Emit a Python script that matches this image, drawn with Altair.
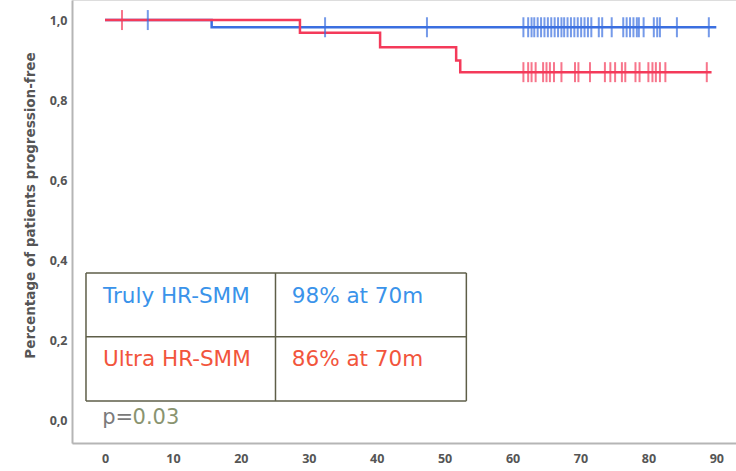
import altair as alt
import pandas as pd

# Kaplan-Meier step curves (months, proportion progression-free)
blue_t = [0, 15.7, 90.0]
blue_s = [1.0, 0.982, 0.982]
red_t = [0, 28.7, 40.5, 51.7, 52.3, 89.3]
red_s = [1.0, 0.968, 0.932, 0.899, 0.870, 0.870]

# Censored observations (months)
blue_cens = [6.3, 32.4, 47.4, 61.6, 62.3, 62.8, 63.2, 63.7, 64.2, 64.7, 65.2,
             65.7, 66.2, 66.7, 67.2, 67.6, 68.1, 68.6, 69.1, 69.6, 70.1, 70.6,
             71.1, 71.6, 72.7, 73.2, 74.6, 76.3, 76.8, 77.3, 77.8, 78.3, 78.6,
             79.3, 80.8, 81.3, 81.7, 84.2, 88.9]
red_cens = [2.5, 61.6, 62.3, 62.8, 63.4, 64.5, 65.0, 65.5, 66.1, 67.2, 69.2,
            69.7, 71.4, 73.6, 74.4, 75.1, 76.1, 76.6, 78.1, 78.7, 80.0, 80.6,
            81.1, 81.7, 82.5, 88.6]

groups = ["Truly HR-SMM", "Ultra HR-SMM"]
summary = ["98% at 70m", "86% at 70m"]
p_value = "0.03"

x_ticks = [0, 10, 20, 30, 40, 50, 60, 70, 80, 90]
y_ticks = [0.0, 0.2, 0.4, 0.6, 0.8, 1.0]

LINE_BLUE = "#3b6fe0"
LINE_RED = "#f43a5a"
TEXT_BLUE = "#3a93ea"
TEXT_RED = "#f2553c"
BORDER = "#5e5e48"
AXIS_TEXT = "#555555"


def surv_at(times, surv, t):
    s = surv[0]
    for ti, si in zip(times, surv):
        if ti <= t:
            s = si
    return s


curves = pd.concat([
    pd.DataFrame({"t": blue_t, "s": blue_s, "g": groups[0], "o": 0}),
    pd.DataFrame({"t": red_t, "s": red_s, "g": groups[1], "o": 1}),
])
cens = pd.concat([
    pd.DataFrame({"t": blue_cens, "s": [surv_at(blue_t, blue_s, c) for c in blue_cens],
                  "g": groups[0]}),
    pd.DataFrame({"t": red_cens, "s": [surv_at(red_t, red_s, c) for c in red_cens],
                  "g": groups[1]}),
])

xs = alt.Scale(domain=[-4.86, 92.9], nice=False, zero=False)
ys = alt.Scale(domain=[-0.055, 1.05], nice=False, zero=False)
col = alt.Scale(domain=groups, range=[LINE_BLUE, LINE_RED])

x_axis = alt.Axis(values=x_ticks, title=None, grid=False, ticks=False,
                  labelFontWeight="bold", labelColor=AXIS_TEXT, labelFontSize=12.5,
                  labelFont="Open Sans", labelPadding=9, domainColor="#b5b5b5",
                  domainWidth=2)
y_axis = alt.Axis(values=y_ticks, title="Percentage of patients progression-free",
                  grid=False, ticks=False, labelFontWeight="bold",
                  labelColor=AXIS_TEXT, labelFontSize=12.5, labelFont="Open Sans",
                  labelPadding=5, domainColor="#b5b5b5", domainWidth=2,
                  labelExpr="replace(format(datum.value, '.1f'), '.', ',')",
                  titleFont="DejaVu Sans", titleFontSize=13.5, titleFontWeight="bold",
                  titleColor=AXIS_TEXT, titleX=-42, titleY=205, titleAngle=-90,
                  titleAlign="center", titleBaseline="middle")

lines = alt.Chart(curves).mark_line(interpolate="step-after", strokeWidth=2.5).encode(
    x=alt.X("t:Q", scale=xs, axis=x_axis),
    y=alt.Y("s:Q", scale=ys, axis=y_axis),
    color=alt.Color("g:N", scale=col, legend=None),
    detail="g:N",
    order="o:Q",
)

ticks = alt.Chart(cens).mark_tick(orient="vertical", size=20, thickness=2).encode(
    x=alt.X("t:Q", scale=xs),
    y=alt.Y("s:Q", scale=ys),
    color=alt.Color("g:N", scale=col, legend=None),
)

# Summary table drawn in data space
tbl_x = [-2.8, 25.1, 53.2]
tbl_y = [0.05, 0.21, 0.369]
hrules = pd.DataFrame({"x": [tbl_x[0]] * 3, "x2": [tbl_x[2]] * 3, "y": tbl_y})
vrules = pd.DataFrame({"x": tbl_x, "y": [tbl_y[0]] * 3, "y2": [tbl_y[2]] * 3})
h = alt.Chart(hrules).mark_rule(color=BORDER, strokeWidth=1.5).encode(
    x=alt.X("x:Q", scale=xs), x2="x2:Q", y=alt.Y("y:Q", scale=ys))
v = alt.Chart(vrules).mark_rule(color=BORDER, strokeWidth=1.5).encode(
    x=alt.X("x:Q", scale=xs), y=alt.Y("y:Q", scale=ys), y2="y2:Q")

cells = pd.DataFrame({
    "x": [-0.3, 27.5, -0.3, 27.5],
    "y": [0.31, 0.31, 0.152, 0.152],
    "label": [groups[0], summary[0], groups[1], summary[1]],
    "c": [TEXT_BLUE, TEXT_BLUE, TEXT_RED, TEXT_RED],
})
cell_text = alt.Chart(cells).mark_text(align="left", baseline="middle", fontSize=21.5,
                                       font="DejaVu Sans").encode(
    x=alt.X("x:Q", scale=xs), y=alt.Y("y:Q", scale=ys), text="label:N",
    color=alt.Color("c:N", scale=None))

ptext = pd.DataFrame({"x": [-0.4, 4.05], "y": [0.008, 0.008],
                      "label": ["p=", p_value], "c": ["#7a7a7a", "#8a9470"]})
p_text = alt.Chart(ptext).mark_text(align="left", baseline="middle", fontSize=21,
                                    font="DejaVu Sans").encode(
    x=alt.X("x:Q", scale=xs), y=alt.Y("y:Q", scale=ys), text="label:N",
    color=alt.Color("c:N", scale=None))

chart = alt.layer(lines, ticks, h, v, cell_text, p_text).properties(
    width=664, height=443,
    padding={"left": 72, "top": 0, "right": 0, "bottom": 28},
    autosize=alt.AutoSizeParams(type="none"),
).configure_view(stroke=None).configure(background="white")

chart.save("out.html", embed_options={"renderer": "svg", "actions": False})
